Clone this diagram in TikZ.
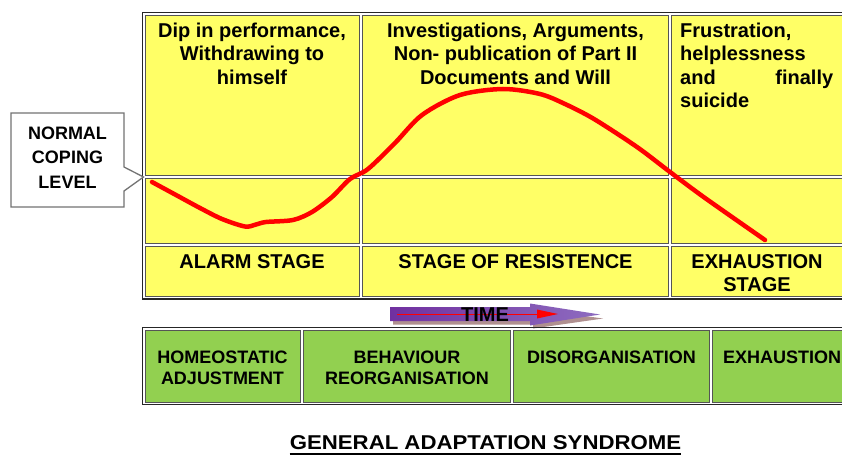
\documentclass[tikz,border=0pt]{standalone}
\usepackage{fontspec}
\setmainfont{Liberation Sans}
\usepackage{graphicx}
\usetikzlibrary{calc}
\definecolor{cellyellow}{HTML}{FFFF66}
\definecolor{cellgreen}{HTML}{92D050}
\definecolor{gridgray}{HTML}{555555}
\definecolor{timepurple}{HTML}{7030A0}
\definecolor{timelight}{HTML}{8E6CC0}
\definecolor{shadowbrown}{HTML}{B09090}
\begin{document}
\begin{tikzpicture}[x=1pt,y=-1pt,
  outerframe/.style={draw=black!85, line width=1.1pt},
  cellbox/.style={draw=gridgray, line width=0.9pt},
  toptxt/.style={font=\fontsize{20}{23.5}\selectfont\bfseries, inner sep=0pt, align=center},
  greentxt/.style={font=\fontsize{18}{21}\selectfont\bfseries, inner sep=0pt, align=center},
  calloutbox/.style={draw=black!55, line width=1.3pt, fill=white, line join=miter},
  curve/.style={draw=red, line width=4.5pt, line cap=round, line join=round}]
\useasboundingbox (0,0) rectangle (842,457);
\fill[white] (0,0) rectangle (842,457);

% ---- yellow table ----
\draw[outerframe] (142.5,12.5) rectangle (852,299);
\foreach \xa/\xb in {145/359.5,362.5/668.5,671.5/850}{
  \foreach \ya/\yb in {15/175.5,178.5/243.5,246.5/296.5}{
    \draw[cellbox, fill=cellyellow] (\xa,\ya) rectangle (\xb,\yb);
  }
}

% ---- top-row texts ----
\node[toptxt, anchor=north] (dip) at (252,20.5)
  {\strut Dip in performance,\\Withdrawing to\\himself};
\node[toptxt, anchor=north] (inv) at (515.5,20.5)
  {\strut Investigations, Arguments,\\Non- publication of Part II\\Documents and Will};
\node[toptxt, anchor=north west, align=left, text width=153pt] (fru) at (680,20.5)
  {\strut Frustration,\\helplessness\\and\hfill finally\\suicide};

% ---- stage names ----
\node[toptxt, anchor=base] (alarm) at (252,268) {ALARM STAGE};
\node[toptxt, anchor=base] (resist) at (515.5,268) {STAGE OF RESISTENCE};
\node[toptxt, anchor=north] (exhst) at (757,251.5) {\strut EXHAUSTION\\STAGE};

% ---- callout ----
\coordinate (nclTip) at (143.5,177);
\draw[calloutbox] (11,113) -- (124,113) -- (124,167) -- (nclTip) -- (124,191)
  -- (124,207) -- (11,207) -- cycle;
\node[font=\fontsize{18}{24.5}\selectfont\bfseries, inner sep=0pt, align=center,
  anchor=north] (ncl) at (67.5,121.9) {\strut NORMAL\\COPING\\LEVEL};

% ---- red curve ----
\draw[curve] plot[smooth, tension=0.5] coordinates {
  (152,182) (176,195) (200,208) (222,219) (245,226.5) (256,224.5) (266,222)
  (293,220) (312,212) (332,197) (350,179) (368,169) (395,143) (422,115)
  (460,95) (503,89) (540,94) (565,104) (594,119) (637,147) (670,172)
  (705,198) (765,240)};

% ---- TIME arrow ----
\fill[shadowbrown] (393,312) -- (533,312) -- (533,309) -- (603,318.5)
  -- (533,328.5) -- (533,324.5) -- (393,324.5) -- cycle;
\shade[left color=timepurple, right color=timelight] (390,307) -- (530,307)
  -- (530,303.5) -- (600,314.5) -- (530,325.5) -- (530,321) -- (390,321) -- cycle;
\draw[red, line width=1pt] (397,314) -- (540,314);
\fill[red] (537,309.5) -- (558,314) -- (537,318.5) -- cycle;
\node[toptxt, anchor=base] (time) at (485,321.5) {TIME};

% ---- green table ----
\draw[outerframe] (142.5,327.5) rectangle (862,404.5);
\foreach \xa/\xb in {145/300.5,303.5/510.5,513.5/709.5,712.5/860}{
  \draw[cellbox, fill=cellgreen] (\xa,330) rectangle (\xb,402);
}
\node[greentxt, anchor=north] (homeo) at (222.5,348.3) {\strut HOMEOSTATIC\\ADJUSTMENT};
\node[greentxt, anchor=north] (behav) at (407,348.3) {\strut BEHAVIOUR\\REORGANISATION};
\node[greentxt, anchor=base] (disorg) at (611.5,363) {DISORGANISATION};
\node[greentxt, anchor=base west] (exh) at (723,363) {EXHAUSTION};

% ---- title ----
\node[font=\fontsize{20}{22}\selectfont\bfseries, inner sep=0pt, anchor=base]
  (title) at (485.5,449.5) {\scalebox{1.11}[1]{GENERAL ADAPTATION SYNDROME}};
\draw[line width=1.5pt] ($(title.base west)+(0,4.5)$) -- ($(title.base east)+(0,4.5)$);
\end{tikzpicture}
\end{document}
